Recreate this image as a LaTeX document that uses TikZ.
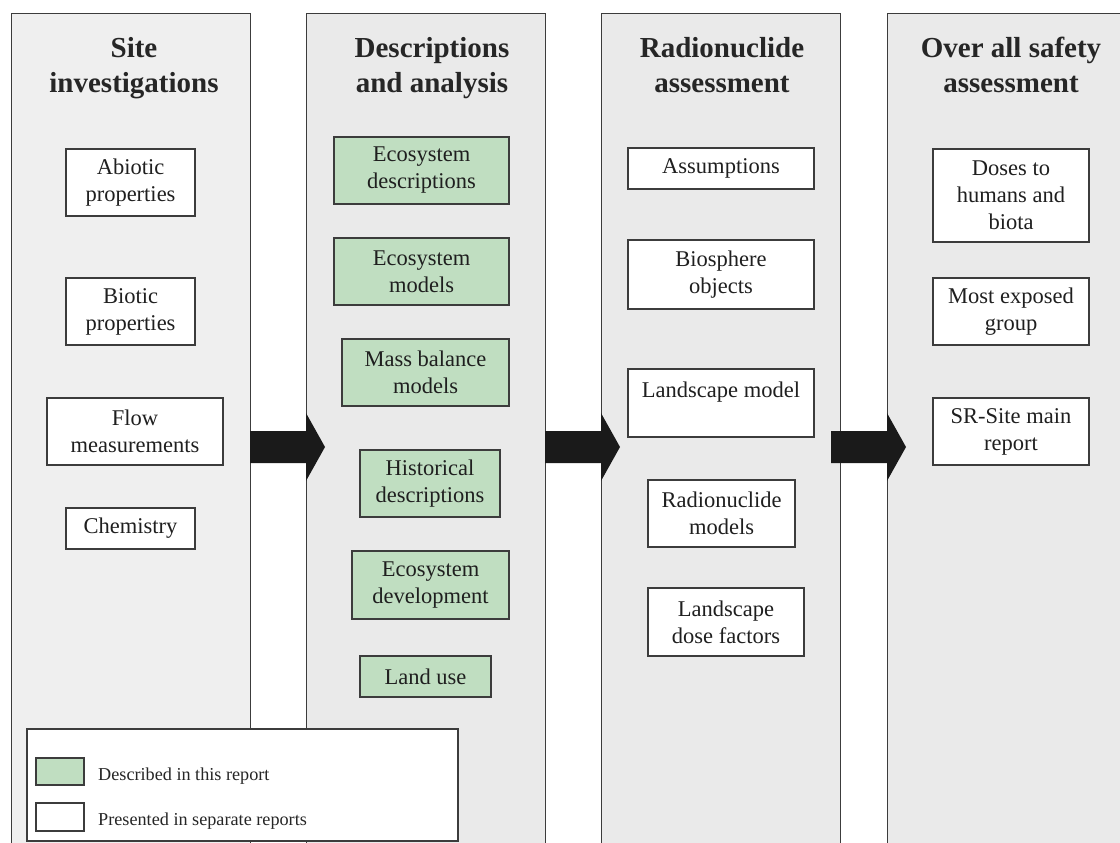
\documentclass[tikz,border=0pt]{standalone}
\usepackage{fontspec}
\setmainfont{Liberation Serif}
\definecolor{colgrayA}{HTML}{EFEFEF}
\definecolor{colgrayB}{HTML}{EAEAEA}
\definecolor{ecogreen}{HTML}{C0DEC1}
\definecolor{linegray}{HTML}{3C3C3C}
\definecolor{arrowblack}{HTML}{1A1A1A}
\begin{document}
\begin{tikzpicture}[x=1bp,y=-1bp,
  column/.style={draw=linegray, line width=1.3bp, minimum width=239bp, minimum height=900bp, anchor=north west, inner sep=0pt},
  item/.style={draw=linegray, line width=1.2bp, fill=white, font=\fontsize{22.5bp}{27bp}\selectfont, align=center, inner sep=0pt, text=black!88},
  greenitem/.style={item, fill=ecogreen},
  heading/.style={font=\fontsize{29bp}{35bp}\selectfont\bfseries, align=center, inner sep=0pt, text=black!85},
  bigarrow/.style={fill=arrowblack},
  legendtext/.style={font=\fontsize{18.2bp}{22bp}\selectfont, anchor=base west, inner sep=0pt, text=black!85},
  swatch/.style={draw=linegray, line width=1.2bp, minimum width=48bp, inner sep=0pt}
]
\clip (0,0) rectangle (1120,843);
\fill[white] (0,0) rectangle (1120,843);

% columns
\node[column, fill=colgrayA] (col1) at (11,13) {};
\node[column, fill=colgrayB] (col2) at (306,13) {};
\node[column, fill=colgrayB] (col3) at (601,13) {};
\node[column, fill=colgrayB] (col4) at (887,13) {};

% headings
\node[heading] (h1) at (134,68) {Site\\investigations};
\node[heading] (h2) at (432,68) {Descriptions\\and analysis};
\node[heading] (h3) at (722,65) {Radionuclide\\assessment};
\node[heading] (h4) at (1011,65) {Over all safety\\assessment};

% column 1
\node[item, minimum width=129bp, minimum height=67bp] (abiotic) at (130.5,182.5) {Abiotic\\properties};
\node[item, minimum width=129bp, minimum height=67bp] (biotic) at (130.5,311.5) {Biotic\\properties};
\node[item, minimum width=176bp, minimum height=67bp] (flow) at (135,431.5) {Flow\\measurements};
\node[item, minimum width=129bp, minimum height=41bp] (chem) at (130.5,528.5) {Chemistry};

% column 2
\node[greenitem, minimum width=175bp, minimum height=67bp] (ecodesc) at (421.5,170.5) {Ecosystem\\descriptions};
\node[greenitem, minimum width=175bp, minimum height=67bp] (ecomod) at (421.5,271.5) {Ecosystem\\models};
\node[greenitem, minimum width=167bp, minimum height=67bp] (mass) at (425.5,372.5) {Mass balance\\models};
\node[greenitem, minimum width=140bp, minimum height=67bp] (hist) at (430,483.5) {Historical\\descriptions};
\node[greenitem, minimum width=157bp, minimum height=68bp] (ecodev) at (430.5,585) {Ecosystem\\development};
\node[greenitem, minimum width=131bp, minimum height=41bp] (landuse) at (425.5,676.5) {Land use};

% column 3
\node[item, minimum width=186bp, minimum height=41bp] (assump) at (721,168.5) {Assumptions};
\node[item, minimum width=186bp, minimum height=69bp] (biosph) at (721,274.5) {Biosphere\\objects};
\node[item, minimum width=186bp, minimum height=68bp] (landmod) at (721,403) {Landscape model\\\mbox{}};
\node[item, minimum width=147bp, minimum height=67bp] (radmod) at (721.5,513.5) {Radionuclide\\models};
\node[item, minimum width=156bp, minimum height=68bp] (ldf) at (726,622) {Landscape\\dose factors};

% column 4
\node[item, minimum width=156bp, minimum height=93bp] (doses) at (1011,195.5) {Doses to\\humans and\\biota};
\node[item, minimum width=156bp, minimum height=67bp] (exposed) at (1011,311.5) {Most exposed\\group};
\node[item, minimum width=156bp, minimum height=67bp] (srsite) at (1011,431.5) {SR-Site main\\report};

% big arrows
\fill[bigarrow] (250,431) -- (306,431) -- (306,413) -- (325,447) -- (306,481) -- (306,463) -- (250,463) -- cycle;
\fill[bigarrow] (545,431) -- (601,431) -- (601,413) -- (620,447) -- (601,481) -- (601,463) -- (545,463) -- cycle;
\fill[bigarrow] (831,431) -- (887,431) -- (887,413) -- (906,447) -- (887,481) -- (887,463) -- (831,463) -- cycle;

% legend
\node[draw=linegray, line width=1.2bp, fill=white, minimum width=431bp, minimum height=112bp, inner sep=0pt] (legend) at (242.5,785) {};
\node[swatch, fill=ecogreen, minimum height=27bp] (swgreen) at (60,771.5) {};
\node[swatch, fill=white, minimum height=28bp] (swwhite) at (60,817) {};
\node[legendtext] (lg1) at (98,780) {Described in this report};
\node[legendtext] (lg2) at (98,825) {Presented in separate reports};
\end{tikzpicture}
\end{document}
